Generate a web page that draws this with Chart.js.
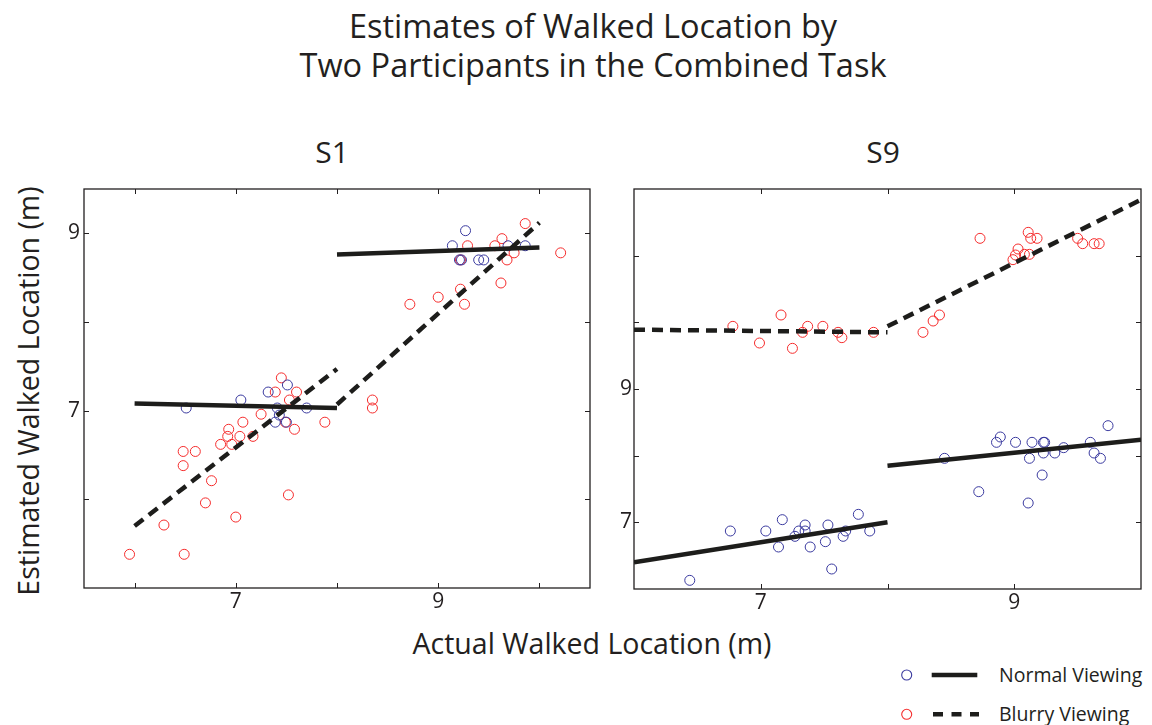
<!DOCTYPE html>
<html>
<head>
<meta charset="utf-8">
<script src="https://cdn.jsdelivr.net/npm/chart.js@4.4.1/dist/chart.umd.min.js"></script>
<style>
  html, body { margin: 0; padding: 0; background: #ffffff; }
  #page { position: relative; width: 1152px; height: 725px; overflow: hidden;
          font-family: "Open Sans", sans-serif; color: #231f20; }
  .txt { position: absolute; white-space: nowrap; }
  #title { left: 0; width: 1186px; top: 6px; text-align: center; font-size: 32.5px; line-height: 39px; }
  .panel-title { width: 200px; text-align: center; font-size: 30px; line-height: 40px; top: 132px; }
  #ytitle { left: 28px; top: 391px; font-size: 28.5px; line-height: 34px;
            transform: translate(-50%, -50%) rotate(-90deg); }
  #xtitle { left: 592px; top: 643px; font-size: 28.5px; line-height: 34px; transform: translate(-50%, -50%); }
  .leg { left: 999px; font-size: 19.5px; line-height: 26px; }
  canvas { position: absolute; }
</style>
</head>
<body>
<div id="page">
  <div id="title" class="txt">Estimates of Walked Location by<br>Two Participants in the Combined Task</div>
  <div class="txt panel-title" style="left:232px;">S1</div>
  <div class="txt panel-title" style="left:783px;">S9</div>
  <div id="ytitle" class="txt">Estimated Walked Location (m)</div>
  <div id="xtitle" class="txt">Actual Walked Location (m)</div>

  <canvas id="chartS1" width="600" height="440" style="left:0px; top:180px;"></canvas>
  <canvas id="chartS9" width="552" height="440" style="left:600px; top:180px;"></canvas>

  <svg style="position:absolute; left:890px; top:655px;" width="100" height="75">
    <circle cx="16.7" cy="20" r="5" fill="none" stroke="#3a3a9f" stroke-width="1.1"/>
    <line x1="41.7" y1="20" x2="87.3" y2="20" stroke="#1d1d1b" stroke-width="4.5"/>
    <circle cx="16.7" cy="59.3" r="5" fill="none" stroke="#f52c2c" stroke-width="1.1"/>
    <line x1="43" y1="59.3" x2="89" y2="59.3" stroke="#1d1d1b" stroke-width="4.5" stroke-dasharray="10 8.5"/>
  </svg>
  <div class="txt leg" style="top:662px;">Normal Viewing</div>
  <div class="txt leg" style="top:701px;">Blurry Viewing</div>
</div>

<script>
// ---- S1: actual vs. estimated walked location (m) ----
const s1NormalX  = [6.51, 7.05, 7.32, 7.51, 7.41, 7.43, 7.39, 7.50, 7.70, 9.14, 9.27, 9.21, 9.23, 9.40, 9.45, 9.69, 9.86];
const s1NormalY  = [7.03, 7.12, 7.21, 7.29, 7.03, 6.95, 6.87, 6.87, 7.03, 8.86, 9.03, 8.70, 8.70, 8.70, 8.70, 8.86, 8.86];
const s1BlurryX  = [5.95, 6.49, 6.29, 6.70, 7.00, 7.52, 6.76, 6.48, 6.48, 6.60, 6.85, 6.92, 6.96, 6.93, 7.04, 7.07, 7.17, 7.25, 7.39, 7.45,
                    7.53, 7.60, 7.49, 7.58, 7.88, 8.35, 8.35, 8.72, 9.00, 9.22, 9.26, 9.29, 9.22, 9.56, 9.63, 9.62, 9.68, 9.75, 9.86, 10.21];
const s1BlurryY  = [5.38, 5.38, 5.71, 5.96, 5.80, 6.05, 6.21, 6.38, 6.54, 6.54, 6.62, 6.71, 6.62, 6.79, 6.71, 6.87, 6.71, 6.96, 7.21, 7.37,
                    7.12, 7.21, 6.87, 6.79, 6.87, 7.12, 7.03, 8.20, 8.28, 8.37, 8.20, 8.86, 8.70, 8.86, 8.94, 8.44, 8.70, 8.78, 9.11, 8.78];
// fitted segments: [x0, y0, x1, y1]
const s1NormalFit = [[6, 7.08, 8, 7.03], [8, 8.76, 10, 8.84]];
const s1BlurryFit = [[6, 5.70, 8, 7.47], [8, 7.07, 10, 9.12]];

// ---- S9 ----
const s9NormalX  = [6.44, 6.76, 7.04, 7.14, 7.17, 7.27, 7.30, 7.35, 7.35, 7.39, 7.51, 7.53, 7.56, 7.65, 7.67, 7.77, 7.86,
                    8.45, 8.72, 8.86, 8.89, 9.01, 9.11, 9.12, 9.14, 9.22, 9.23, 9.24, 9.23, 9.32, 9.39, 9.60, 9.63, 9.68, 9.74];
const s9NormalY  = [6.13, 6.87, 6.87, 6.63, 7.04, 6.79, 6.87, 6.96, 6.87, 6.63, 6.71, 6.96, 6.30, 6.79, 6.87, 7.12, 6.87,
                    7.96, 7.46, 8.20, 8.28, 8.20, 7.29, 7.96, 8.20, 7.71, 8.20, 8.20, 8.04, 8.04, 8.12, 8.20, 8.04, 7.96, 8.45];
const s9BlurryX  = [6.78, 6.99, 7.16, 7.25, 7.33, 7.37, 7.49, 7.61, 7.64, 7.89, 8.28, 8.36, 8.41,
                    8.73, 8.99, 9.01, 9.03, 9.08, 9.12, 9.11, 9.13, 9.18, 9.50, 9.54, 9.63, 9.67];
const s9BlurryY  = [9.94, 9.69, 10.11, 9.61, 9.85, 9.94, 9.94, 9.85, 9.77, 9.85, 9.85, 10.02, 10.11,
                    11.26, 10.94, 11.01, 11.10, 11.02, 11.02, 11.35, 11.26, 11.26, 11.26, 11.18, 11.18, 11.18];
const s9NormalFit = [[6, 6.40, 8, 7.00], [8, 7.85, 10, 8.24]];
const s9BlurryFit = [[6, 9.89, 8, 9.85], [8, 9.94, 10, 11.84]];

// axis ranges, labelled ticks and tick marks
const s1XRange = [5.5, 10.5], s1YRange = [5, 9.5];
const s9XRange = [6, 10],     s9YRange = [6, 12];
const s1XLabels = [7, 9], s1YLabels = [7, 9];
const s9XLabels = [7, 9], s9YLabels = [7, 9];
const s1XMarks = [6, 7, 8, 9, 10], s1YMarks = [6, 7, 8, 9];
const s9XMarks = [7, 8, 9],        s9YMarks = [7, 8, 9, 10, 11];

const INK = '#231f20';
const BLUE = '#3a3a9f';
const RED = '#f52c2c';
const LINE = '#1d1d1b';

Chart.defaults.font.family = '"Open Sans", sans-serif';
Chart.defaults.color = INK;

const toPoints = (xs, ys) => xs.map((x, i) => ({ x, y: ys[i] }));

// Box frame with short inward tick marks on all four sides
const framePlugin = {
  id: 'frame',
  beforeDatasetsDraw(chart, args, opts) {
    const { ctx, chartArea: a, scales: { x, y } } = chart;
    const len = 5;
    ctx.save();
    ctx.strokeStyle = INK;
    ctx.lineWidth = 1.3;
    ctx.strokeRect(a.left, a.top, a.right - a.left, a.bottom - a.top);
    ctx.lineWidth = 1;
    ctx.beginPath();
    opts.xMarks.forEach(v => {
      const px = Math.round(x.getPixelForValue(v)) + 0.5;
      ctx.moveTo(px, a.bottom); ctx.lineTo(px, a.bottom - len);
      ctx.moveTo(px, a.top);    ctx.lineTo(px, a.top + len);
    });
    opts.yMarks.forEach(v => {
      const py = Math.round(y.getPixelForValue(v)) + 0.5;
      ctx.moveTo(a.left, py);  ctx.lineTo(a.left + len, py);
      ctx.moveTo(a.right, py); ctx.lineTo(a.right - len, py);
    });
    ctx.stroke();
    ctx.restore();
  }
};

function fitDatasets(segments, dashed) {
  return segments.map(s => ({
    data: [{ x: s[0], y: s[1] }, { x: s[2], y: s[3] }],
    showLine: true,
    borderColor: LINE,
    borderWidth: 4.5,
    borderDash: dashed ? [11, 7] : [],
    borderCapStyle: 'butt',
    pointRadius: 0,
    fill: false
  }));
}

function pointDataset(xs, ys, color) {
  return {
    data: toPoints(xs, ys),
    showLine: false,
    pointStyle: 'circle',
    pointRadius: 5,
    pointBorderWidth: 1,
    pointBorderColor: color,
    pointBackgroundColor: 'rgba(0,0,0,0)'
  };
}

// fixed axis box sizes, without extra room reserved for edge labels
function fixBox(size, key) {
  return s => {
    s[key] = size;
    s.paddingTop = 0; s.paddingBottom = 0; s.paddingLeft = 0; s.paddingRight = 0;
  };
}

function makePanel(canvasId, cfg) {
  return new Chart(document.getElementById(canvasId), {
    type: 'scatter',
    data: {
      datasets: [
        ...fitDatasets(cfg.normalFit, false),
        ...fitDatasets(cfg.blurryFit, true),
        pointDataset(cfg.normalX, cfg.normalY, BLUE),
        pointDataset(cfg.blurryX, cfg.blurryY, RED)
      ]
    },
    options: {
      responsive: false,
      animation: false,
      events: [],
      layout: { padding: cfg.padding },
      plugins: {
        legend: { display: false },
        title: { display: false },
        tooltip: { enabled: false },
        frame: { xMarks: cfg.xMarks, yMarks: cfg.yMarks }
      },
      scales: {
        x: {
          type: 'linear',
          min: cfg.xRange[0], max: cfg.xRange[1],
          grid: { display: false, drawTicks: false },
          border: { display: false },
          ticks: { font: { size: 21 }, color: INK, padding: 1, maxRotation: 0, autoSkip: false },
          afterBuildTicks: s => { s.ticks = cfg.xLabels.map(v => ({ value: v })); },
          afterFit: fixBox(cfg.xAxisHeight, 'height')
        },
        y: {
          type: 'linear',
          min: cfg.yRange[0], max: cfg.yRange[1],
          grid: { display: false, drawTicks: false },
          border: { display: false },
          ticks: { font: { size: 21 }, color: INK, padding: cfg.yPad, autoSkip: false },
          afterBuildTicks: s => { s.ticks = cfg.yLabels.map(v => ({ value: v })); },
          afterFit: fixBox(cfg.yAxisWidth, 'width')
        }
      }
    },
    plugins: [framePlugin]
  });
}

makePanel('chartS1', {
  normalX: s1NormalX, normalY: s1NormalY, blurryX: s1BlurryX, blurryY: s1BlurryY,
  normalFit: s1NormalFit, blurryFit: s1BlurryFit,
  xRange: s1XRange, yRange: s1YRange, xLabels: s1XLabels, yLabels: s1YLabels,
  xMarks: s1XMarks, yMarks: s1YMarks,
  padding: { top: 9, right: 10, left: 0, bottom: 0 },
  xAxisHeight: 32, yAxisWidth: 84, yPad: 4
});

makePanel('chartS9', {
  normalX: s9NormalX, normalY: s9NormalY, blurryX: s9BlurryX, blurryY: s9BlurryY,
  normalFit: s9NormalFit, blurryFit: s9BlurryFit,
  xRange: s9XRange, yRange: s9YRange, xLabels: s9XLabels, yLabels: s9YLabels,
  xMarks: s9XMarks, yMarks: s9YMarks,
  padding: { top: 9, right: 11, left: 0, bottom: 0 },
  xAxisHeight: 31, yAxisWidth: 34, yPad: 2
});
</script>
</body>
</html>
